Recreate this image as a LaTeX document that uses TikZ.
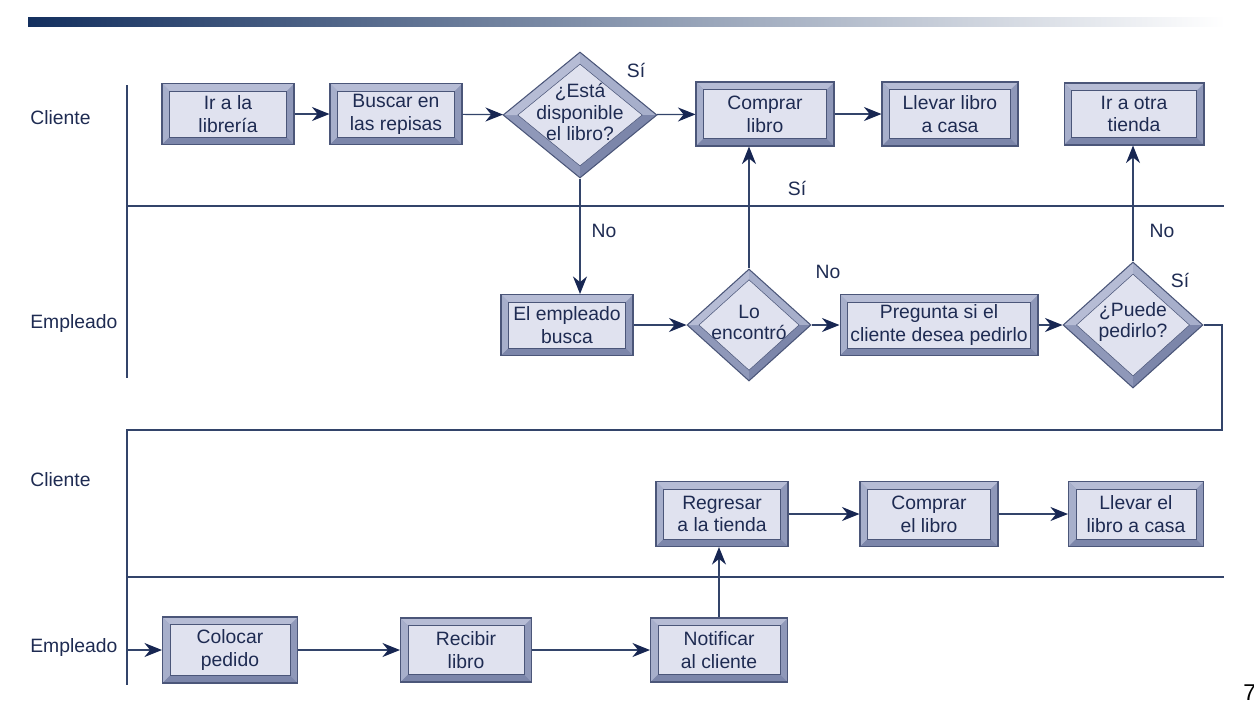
\documentclass[tikz,border=0pt]{standalone}
\usepackage{fontspec}
\setmainfont{Liberation Sans}
\usetikzlibrary{shapes.geometric,arrows.meta,calc}

\definecolor{ink}{HTML}{1E2B52}
\definecolor{wire}{HTML}{33446A}
\definecolor{tipcol}{HTML}{172652}
\definecolor{edge}{HTML}{4B5679}
\definecolor{facefill}{HTML}{E0E2EF}
\definecolor{bevtop}{HTML}{B6BCD5}
\definecolor{bevleft}{HTML}{A7AFCB}
\definecolor{bevright}{HTML}{8F98B9}
\definecolor{bevbot}{HTML}{7C86AA}
\definecolor{barnavy}{HTML}{14305F}
\definecolor{barmid}{HTML}{5E6B96}

\tikzset{
  txt/.style={text=ink, font=\fontsize{11}{13}\selectfont},
  % bevelled process box
  procbox/.style={txt, draw=edge, line width=0.6pt, fill=bevright, inner sep=0pt, align=center,
    path picture={
      \coordinate (bsw) at (path picture bounding box.south west);
      \coordinate (bnw) at (path picture bounding box.north west);
      \coordinate (bne) at (path picture bounding box.north east);
      \coordinate (bse) at (path picture bounding box.south east);
      \coordinate (isw) at ($(bsw)+(0.15cm,0.15cm)$);
      \coordinate (inw) at ($(bnw)+(0.15cm,-0.15cm)$);
      \coordinate (ine) at ($(bne)+(-0.15cm,-0.15cm)$);
      \coordinate (ise) at ($(bse)+(-0.15cm,0.15cm)$);
      \fill[bevtop] (bnw) -- (bne) -- (ine) -- (inw) -- cycle;
      \fill[bevleft] (bsw) -- (bnw) -- (inw) -- (isw) -- cycle;
      \fill[bevbot] (bsw) -- (bse) -- (ise) -- (isw) -- cycle;
      \filldraw[fill=facefill, draw=edge, line width=0.3pt] (isw) rectangle (ine);
    }},
  % bevelled decision diamond
  decbox/.style={shape=diamond, draw=edge, line width=0.6pt, fill=bevright, inner sep=0pt,
    path picture={
      \coordinate (dC) at (path picture bounding box.center);
      \coordinate (dN) at (path picture bounding box.north);
      \coordinate (dE) at (path picture bounding box.east);
      \coordinate (dS) at (path picture bounding box.south);
      \coordinate (dW) at (path picture bounding box.west);
      \coordinate (qN) at ($(dC)!0.81!(dN)$);
      \coordinate (qE) at ($(dC)!0.81!(dE)$);
      \coordinate (qS) at ($(dC)!0.81!(dS)$);
      \coordinate (qW) at ($(dC)!0.81!(dW)$);
      \fill[bevtop] (dW) -- (dN) -- (qN) -- (qW) -- cycle;
      \fill[bevleft] (dN) -- (dE) -- (qE) -- (qN) -- cycle;
      \fill[bevbot] (dE) -- (dS) -- (qS) -- (qE) -- cycle;
      \filldraw[fill=facefill, draw=edge, line width=0.3pt] (qN) -- (qE) -- (qS) -- (qW) -- cycle;
    }},
  dectxt/.style={txt, align=center, font=\fontsize{11}{12}\selectfont, yshift=0.06cm},
  lanelbl/.style={txt, anchor=west, inner sep=0pt},
  tag/.style={txt, inner sep=0pt},
  flow/.style={draw=wire, line width=0.7pt, -{Stealth[length=10pt,width=8pt,color=tipcol]}},
  lane/.style={draw=wire, line width=0.7pt},
}

\begin{document}
\begin{tikzpicture}[x=0.02cm, y=-0.02cm]
    \useasboundingbox (0,0) rectangle (1254,708);
    % Title bar
    \shade[left color=barnavy, middle color=barmid, right color=white] (28,17) rectangle (1225,26);
    % Swim lanes
    \draw[lane] (127,85) -- (127,378);
    \draw[lane] (127,206) -- (1224,206);
    \draw[lane] (127,430) -- (127,685);
    \draw[lane] (127,577) -- (1224,577);
    \node[lanelbl] (lane1) at (30,118) {Cliente};
    \node[lanelbl] (lane2) at (30,323) {Empleado};
    \node[lanelbl] (lane3) at (30,480) {Cliente};
    \node[lanelbl] (lane4) at (30,647) {Empleado};

    % Cliente, first visit
    \node[procbox, minimum width=2.64cm, minimum height=1.22cm] (ir) at (228,114) {Ir a la\\librería};
    \node[procbox, minimum width=2.64cm, minimum height=1.22cm] (buscar) at (396,114) {Buscar en\\las repisas};
    \node[decbox, minimum width=3.08cm, minimum height=2.52cm,
      label={[dectxt, name=disptxt]center:{¿Está\\disponible\\el libro?}}] (disp) at (580,115) {};
    \node[procbox, minimum width=2.76cm, minimum height=1.28cm] (comprar) at (765,114) {Comprar\\libro};
    \node[procbox, minimum width=2.72cm, minimum height=1.28cm] (llevar) at (950,114) {Llevar libro\\a casa};
    \node[procbox, minimum width=2.80cm, minimum height=1.24cm] (otra) at (1134,114) {Ir a otra\\tienda};

    % Empleado, first visit
    \node[procbox, minimum width=2.64cm, minimum height=1.22cm] (busca) at (567,325) {El empleado\\busca};
    \node[decbox, minimum width=2.48cm, minimum height=2.24cm,
      label={[dectxt, name=enctxt]center:{Lo\\encontró}}] (encontro) at (749,325) {};
    \node[procbox, minimum width=3.96cm, minimum height=1.22cm] (pregunta) at (939,325) {Pregunta si el\\cliente desea pedirlo};
    \node[decbox, minimum width=2.80cm, minimum height=2.52cm,
      label={[dectxt, name=pedtxt]center:{¿Puede\\pedirlo?}}] (pedir) at (1133,325) {};

    % Cliente, second visit
    \node[procbox, minimum width=2.64cm, minimum height=1.30cm] (regresar) at (722,514) {Regresar\\a la tienda};
    \node[procbox, minimum width=2.76cm, minimum height=1.30cm] (comprar2) at (929,514) {Comprar\\el libro};
    \node[procbox, minimum width=2.70cm, minimum height=1.30cm] (llevar2) at (1136,514) {Llevar el\\libro a casa};

    % Empleado, order
    \node[procbox, minimum width=2.70cm, minimum height=1.32cm] (colocar) at (230,650) {Colocar\\pedido};
    \node[procbox, minimum width=2.62cm, minimum height=1.28cm] (recibir) at (466,650) {Recibir\\libro};
    \node[procbox, minimum width=2.74cm, minimum height=1.28cm] (notificar) at (719,650) {Notificar\\al cliente};

    % Connectors
    \draw[flow] (ir) -- (buscar);
    \draw[flow] (buscar) -- (disp);
    \draw[flow] (disp) -- (comprar);
    \draw[flow] (comprar) -- (llevar);
    \draw[flow] (disp.south) -- (disp.south |- busca.north);
    \draw[flow] (busca) -- (encontro);
    \draw[flow] (encontro.north) -- (encontro.north |- comprar.south);
    \draw[flow] (encontro) -- (pregunta);
    \draw[flow] (pregunta) -- (pedir);
    \draw[flow] (pedir.north) -- (pedir.north |- otra.south);
    \coordinate (turnR) at (1222,430);
    \coordinate (turnL) at (127,430);
    \draw[flow] (pedir.east) -| (turnR) -- (turnL) |- (colocar.west);
    \draw[flow] (colocar) -- (recibir);
    \draw[flow] (recibir) -- (notificar);
    \draw[flow] (notificar.north) -- (notificar.north |- regresar.south);
    \draw[flow] (regresar) -- (comprar2);
    \draw[flow] (comprar2) -- (llevar2);

    % Branch labels
    \node[tag] (si1) at (636,70) {Sí};
    \node[tag] (no1) at (604,231) {No};
    \node[tag] (si2) at (797,188) {Sí};
    \node[tag] (no2) at (828,272) {No};
    \node[tag] (no3) at (1162,231) {No};
    \node[tag] (si3) at (1180,280) {Sí};

    % Page number
    \node[anchor=west, inner sep=0pt, font=\fontsize{13}{15}\selectfont] (pagenum) at (1243,693) {7};
\end{tikzpicture}
\end{document}
